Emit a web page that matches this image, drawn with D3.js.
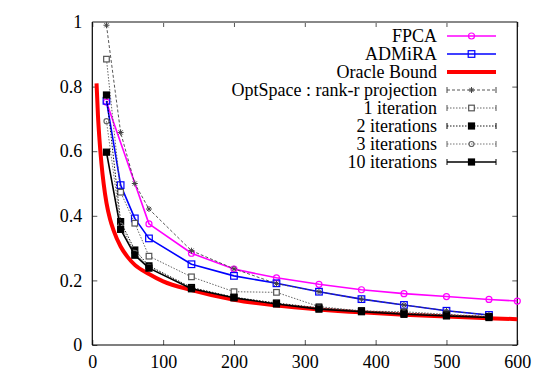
<!DOCTYPE html>
<html>
<head>
<meta charset="utf-8">
<script src="https://cdn.jsdelivr.net/npm/d3@7/dist/d3.min.js"></script>
<style>
body{margin:0;background:#fff;}
svg text{font-family:"Liberation Serif","DejaVu Serif","Times New Roman",serif !important;}
</style>
</head>
<body>
<svg id="c" width="545" height="382"></svg>
<script>
const xTicks=[0,100,200,300,400,500,600];
const yTicks=[0,0.2,0.4,0.6,0.8,1];
const yTickLabels=["0","0.2","0.4","0.6","0.8","1"];

const xMain=[20,40,60,80,140,200,260,320,380,440,500,560];
const xFpca=[20,80,140,200,260,320,380,440,500,560,600];
const fpca=[0.752,0.375,0.284,0.235,0.208,0.188,0.171,0.159,0.150,0.141,0.136];
const admira=[0.756,0.495,0.392,0.330,0.250,0.214,0.191,0.165,0.142,0.124,0.106,0.093];
const xOracle=[6,8,10,13,16,20,25,30,40,50,60,80,100,140,200,260,320,380,440,500,560,600];
const oracle=[0.81,0.71,0.64,0.56,0.50,0.44,0.39,0.355,0.305,0.272,0.248,0.220,0.197,0.170,0.140,0.122,0.110,0.101,0.094,0.088,0.083,0.080];
const rankR=[0.99,0.658,0.50,0.421,0.292,0.236,0.190,0.165,0.142,0.124,0.106,0.093];
const iter1=[0.885,0.473,0.377,0.275,0.211,0.165,0.163,0.119,0.105,0.103,0.095,0.088];
const iter2=[0.774,0.382,0.294,0.245,0.178,0.148,0.130,0.115,0.106,0.099,0.093,0.088];
const iter3=[0.693,0.370,0.285,0.242,0.176,0.147,0.128,0.114,0.105,0.098,0.092,0.087];
const iter10=[0.597,0.358,0.278,0.238,0.174,0.146,0.127,0.111,0.103,0.095,0.090,0.085];

const FONT="Liberation Serif, DejaVu Serif, serif";
const svg=d3.select("#c");
svg.append("rect").attr("width",545).attr("height",382).attr("fill","#fff");
const L=92.3,R=517.3,T=22,B=345;
const x=d3.scaleLinear().domain([0,600]).range([L,R]);
const y=d3.scaleLinear().domain([0,1]).range([B,T]);

const fs="18px";
const ax=svg.append("g").attr("transform",`translate(0,${B})`)
  .call(d3.axisBottom(x).tickValues(xTicks).tickSize(-5).tickPadding(10).tickFormat(d3.format("d")));
const ay=svg.append("g").attr("transform",`translate(${L},0)`)
  .call(d3.axisLeft(y).tickValues(yTicks).tickSize(-5).tickPadding(10).tickFormat((d,i)=>yTickLabels[i]));
const at=svg.append("g").attr("transform",`translate(0,${T})`)
  .call(d3.axisTop(x).tickValues(xTicks).tickSize(-5).tickFormat(""));
const ar=svg.append("g").attr("transform",`translate(${R},0)`)
  .call(d3.axisRight(y).tickValues(yTicks).tickSize(-5).tickFormat(""));
[ax,ay,at,ar].forEach(g=>{
  g.attr("font-family",FONT).attr("font-size",fs);
  g.select(".domain").remove();
  g.selectAll(".tick line").attr("stroke","#555").attr("stroke-width",1);
  g.selectAll(".tick text").attr("font-size",fs).attr("fill","#000").attr("font-family",FONT);
});
svg.append("line").attr("x1",L).attr("x2",R).attr("y1",T).attr("y2",T).attr("stroke","#888").attr("stroke-width",1.8);
svg.append("line").attr("x1",L).attr("x2",R).attr("y1",B).attr("y2",B).attr("stroke","#000").attr("stroke-width",1.2);
svg.append("line").attr("x1",L).attr("x2",L).attr("y1",T).attr("y2",B).attr("stroke","#000").attr("stroke-width",1.2);
svg.append("line").attr("x1",R).attr("x2",R).attr("y1",T).attr("y2",B).attr("stroke","#000").attr("stroke-width",1.2);

const series=[
 {name:"FPCA",xs:xFpca,ys:fpca,color:"#ff00ff",w:1.6,dash:null,marker:"circle",fill:"none",ms:3,bars:false},
 {name:"ADMiRA",xs:xMain,ys:admira,color:"#0000ff",w:1.6,dash:null,marker:"square",fill:"none",ms:3.3,bars:false},
 {name:"Oracle Bound",xs:xOracle,ys:oracle,color:"#ff0000",w:4,dash:null,marker:null,bars:false},
 {name:"OptSpace : rank-r projection",xs:xMain,ys:rankR,color:"#444",w:0.9,dash:"3,2",marker:"star",fill:"none",ms:3,bars:true},
 {name:"1 iteration",xs:xMain,ys:iter1,color:"#555",w:0.9,dash:"1.5,1.5",marker:"square",fill:"#fff",ms:2.8,bars:true},
 {name:"2 iterations",xs:xMain,ys:iter2,color:"#000",w:0.9,dash:"1.5,1.5",marker:"square",fill:"#000",ms:3,bars:true},
 {name:"3 iterations",xs:xMain,ys:iter3,color:"#666",w:0.9,dash:"1.5,1.5",marker:"circle",fill:"none",ms:2.5,bars:true},
 {name:"10 iterations",xs:xMain,ys:iter10,color:"#000",w:1.6,dash:null,marker:"square",fill:"#000",ms:3,bars:true}
];

function drawMarker(g,type,cx,cy,s){
  if(type==="circle"){
    g.append("circle").attr("cx",cx).attr("cy",cy).attr("r",s.ms)
     .attr("fill",s.fill).attr("stroke",s.color).attr("stroke-width",1.2);
  } else if(type==="square"){
    g.append("rect").attr("x",cx-s.ms).attr("y",cy-s.ms).attr("width",2*s.ms).attr("height",2*s.ms)
     .attr("fill",s.fill).attr("stroke",s.color).attr("stroke-width",1.2);
  } else if(type==="star"){
    const r=s.ms;
    const p=`M${cx-r},${cy}L${cx+r},${cy}M${cx},${cy-r}L${cx},${cy+r}M${cx-r*0.7},${cy-r*0.7}L${cx+r*0.7},${cy+r*0.7}M${cx-r*0.7},${cy+r*0.7}L${cx+r*0.7},${cy-r*0.7}`;
    g.append("path").attr("d",p).attr("stroke",s.color).attr("stroke-width",1).attr("fill","none");
  }
}

const line=d3.line().x(d=>x(d[0])).y(d=>y(d[1]));
const smooth=d3.line().curve(d3.curveMonotoneX).x(d=>x(d[0])).y(d=>y(d[1]));
const plot=svg.append("g");
series.forEach(s=>{
  const g=plot.append("g");
  const pts=s.xs.map((xv,i)=>[xv,s.ys[i]]);
  g.append("path").attr("d",(s.marker===null?smooth:line)(pts)).attr("fill","none").attr("stroke",s.color)
   .attr("stroke-width",s.w).attr("stroke-dasharray",s.dash).attr("stroke-linejoin","round");
  if(s.marker) pts.forEach(p=>drawMarker(g,s.marker,x(p[0]),y(p[1]),s));
});

const lg=svg.append("g").attr("font-family",FONT);
const lx1=447,lx2=496,ltx=437;
series.forEach((s,i)=>{
  const cy=36+i*18;
  lg.append("text").attr("x",ltx).attr("y",cy+6).attr("text-anchor","end")
    .attr("font-family",FONT).attr("font-size",fs).attr("fill","#000").text(s.name);
  lg.append("line").attr("x1",lx1).attr("x2",lx2).attr("y1",cy).attr("y2",cy)
    .attr("stroke",s.color).attr("stroke-width",s.w).attr("stroke-dasharray",s.dash);
  if(s.bars){
    [lx1,lx2].forEach(bx=>lg.append("line").attr("x1",bx).attr("x2",bx).attr("y1",cy-3).attr("y2",cy+3)
      .attr("stroke",s.color).attr("stroke-width",1));
  }
  if(s.marker) drawMarker(lg,s.marker,(lx1+lx2)/2,cy,s);
});
</script>
</body>
</html>
